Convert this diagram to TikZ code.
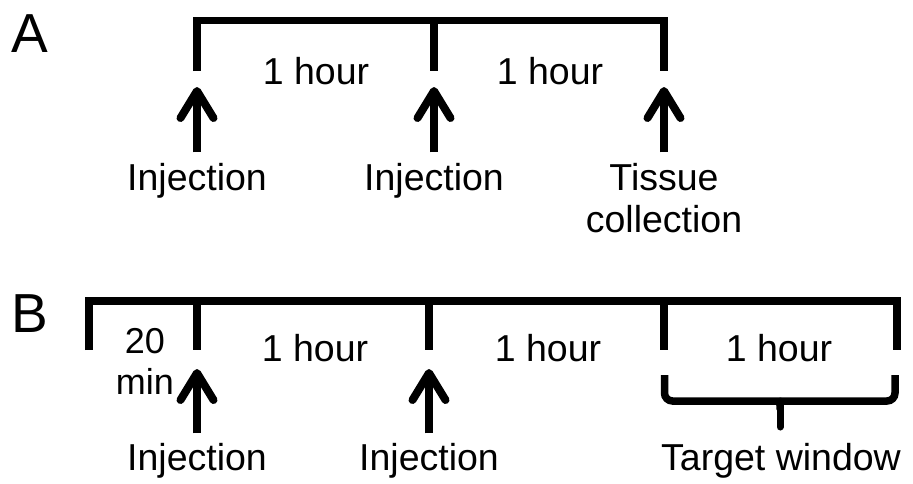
\documentclass[tikz,border=0pt]{standalone}
\usepackage{fontspec}
\setmainfont{Liberation Sans}
\usetikzlibrary{arrows.meta,positioning}

\begin{document}
\begin{tikzpicture}[x=1pt, y=-1pt]
            \tikzstyle{panel} = [font=\fontsize{55}{60}\selectfont, anchor=base, inner sep=0pt]
            \tikzstyle{txt} = [font=\fontsize{37.5}{42}\selectfont, anchor=base, align=center]
            \tikzstyle{timeline} = [line width=7.5pt, line join=miter]
            \tikzstyle{event} = [line width=8pt, -{Straight Barb[round, length=27pt, width=33pt]}]
            \useasboundingbox (0, 0) rectangle (913, 483);
            % A
            \node[panel] (A) at (30, 52) {A};
            \draw[timeline] (197, 71) -- (197, 20.5) -- (664, 20.5) -- (664, 71);
            \draw[timeline] (434, 20.5) -- (434, 71);
            \node[txt] (a1) at (316, 84) {1 hour};
            \node[txt] (a2) at (550, 84) {1 hour};
            \node[txt] (injA1) at (197, 190) {Injection};
            \node[txt] (injA2) at (434, 190) {Injection};
            \node[txt] (tissue) at (664, 232) {Tissue\\collection};
            \coordinate (tA1) at (197, 87);
            \coordinate (tA2) at (434, 87);
            \coordinate (tA3) at (664, 87);
            \draw[event, shorten <=7pt] (injA1) -- (tA1);
            \draw[event, shorten <=7pt] (injA2) -- (tA2);
            \draw[event, shorten <=7pt] (tissue) -- (tA3);
            % B
            \node[panel] (B) at (30, 332) {B};
            \draw[timeline] (89, 350) -- (89, 301) -- (897, 301) -- (897, 350);
            \foreach \x in {197, 429, 664}
                \draw[timeline] (\x, 301) -- (\x, 350);
            \node[txt, font=\fontsize{36}{41}\selectfont] (pre) at (145, 394) {20\\min};
            \node[txt] (b1) at (315, 361) {1 hour};
            \node[txt] (b2) at (548, 361) {1 hour};
            \node[txt] (b3) at (779, 361) {1 hour};
            \node[txt] (injB1) at (197, 470) {Injection};
            \node[txt] (injB2) at (429, 470) {Injection};
            \node[txt] (target) at (781, 470) {Target window};
            \coordinate (tB1) at (197, 369);
            \coordinate (tB2) at (429, 369);
            \draw[event, shorten <=6pt] (injB1) -- (tB1);
            \draw[event, shorten <=6pt] (injB2) -- (tB2);
            \draw[line width=7.5pt, rounded corners=8pt] (664.5, 375) -- (664.5, 401) -- (895, 401) -- (895, 375);
            \coordinate (wmid) at (780, 401);
            \coordinate (wtip) at (780, 427);
            \draw[line width=7pt, line cap=round] (wmid) -- (wtip);
            \fill (773, 401) .. controls (776.5, 404) .. (776.5, 410) -- (783.5, 410) .. controls (783.5, 404) .. (787, 401) -- cycle;
        \end{tikzpicture}
\end{document}
